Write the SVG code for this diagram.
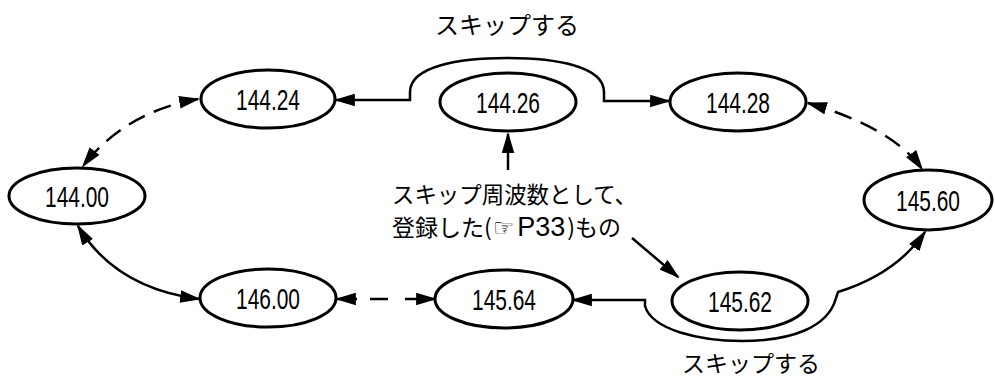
<svg xmlns="http://www.w3.org/2000/svg" width="995" height="380" viewBox="0 0 995 380">
<defs>
<style>
.node ellipse{fill:#fff;stroke:#000;stroke-width:3}
.num{font-family:"Liberation Sans Narrow","Liberation Sans",sans-serif;font-size:30px;text-anchor:middle;fill:#000}
.jp{font-family:"Noto Sans CJK JP","Liberation Sans",sans-serif;font-size:23px;fill:#000}
.conn path{fill:none;stroke:#000;stroke-width:2.5}
.dash{stroke-dasharray:18 10}
</style>
<marker id="ah" viewBox="0 0 20 12" refX="18" refY="6" markerWidth="21" markerHeight="13" orient="auto-start-reverse" markerUnits="userSpaceOnUse">
<path d="M0,0 L20,6 L0,12 z" fill="#000"/>
</marker>
</defs>
<rect width="995" height="380" fill="#fff"/>

<g id="connectors" class="conn">
<path class="dash" d="M198 99 Q125 112 83 166" marker-start="url(#ah)" marker-end="url(#ah)"/>
<path class="dash" d="M808 103 Q893 128 922 169" marker-start="url(#ah)" marker-end="url(#ah)"/>
<path d="M78 226 Q115 288 199 299" marker-start="url(#ah)" marker-end="url(#ah)"/>
<path d="M337 299 H435" style="stroke-dasharray:20 13 18 17 40" marker-start="url(#ah)" marker-end="url(#ah)"/>
<path d="M336 100 H410 V92 C410 66 460 58 507 58 C555 58 604 66 604 92 V101 H669" marker-start="url(#ah)" marker-end="url(#ah)"/>
<path d="M573 300 H645 V306 C652 330 700 341 742 341 C790 341 828 328 836 298 L838 292 Q896 274 925 232" marker-start="url(#ah)" marker-end="url(#ah)"/>
<path d="M508 170 V134" marker-end="url(#ah)"/>
<path d="M632 238 L678 277" marker-end="url(#ah)"/>
</g>

<g id="n14400" class="node"><ellipse cx="77" cy="196" rx="68" ry="28"/><text class="num" x="77" y="207" textLength="64" lengthAdjust="spacingAndGlyphs">144.00</text></g>
<g id="n14424" class="node"><ellipse cx="268" cy="99" rx="67" ry="29"/><text class="num" x="268" y="110" textLength="64" lengthAdjust="spacingAndGlyphs">144.24</text></g>
<g id="n14426" class="node"><ellipse cx="508" cy="102" rx="68" ry="29"/><text class="num" x="508" y="113" textLength="64" lengthAdjust="spacingAndGlyphs">144.26</text></g>
<g id="n14428" class="node"><ellipse cx="738" cy="102" rx="68" ry="29"/><text class="num" x="738" y="113" textLength="64" lengthAdjust="spacingAndGlyphs">144.28</text></g>
<g id="n14560" class="node"><ellipse cx="928" cy="200" rx="64" ry="30"/><text class="num" x="928" y="211" textLength="64" lengthAdjust="spacingAndGlyphs">145.60</text></g>
<g id="n14600" class="node"><ellipse cx="268" cy="298" rx="68" ry="29"/><text class="num" x="268" y="309" textLength="64" lengthAdjust="spacingAndGlyphs">146.00</text></g>
<g id="n14564" class="node"><ellipse cx="504" cy="299" rx="69" ry="29"/><text class="num" x="504" y="310" textLength="64" lengthAdjust="spacingAndGlyphs">145.64</text></g>
<g id="n14562" class="node"><ellipse cx="740" cy="301" rx="68" ry="29"/><text class="num" x="740" y="312" textLength="64" lengthAdjust="spacingAndGlyphs">145.62</text></g>

<g id="labels">
<text class="jp" x="507" y="34" text-anchor="middle" style="font-size:24px">スキップする</text>
<text class="jp" x="751" y="372" text-anchor="middle" style="font-size:23px">スキップする</text>
<text class="jp" x="392" y="203" textLength="245" lengthAdjust="spacingAndGlyphs">スキップ周波数として、</text>
<text class="jp" x="392" y="236">登録した(<tspan dx="1" style="font-family:'DejaVu Sans',sans-serif;font-size:24px">☞</tspan><tspan dx="3" style="font-family:'Liberation Sans Narrow','Liberation Sans',sans-serif;font-size:27px">P33</tspan><tspan dx="2">)もの</tspan></text>
</g>
</svg>
